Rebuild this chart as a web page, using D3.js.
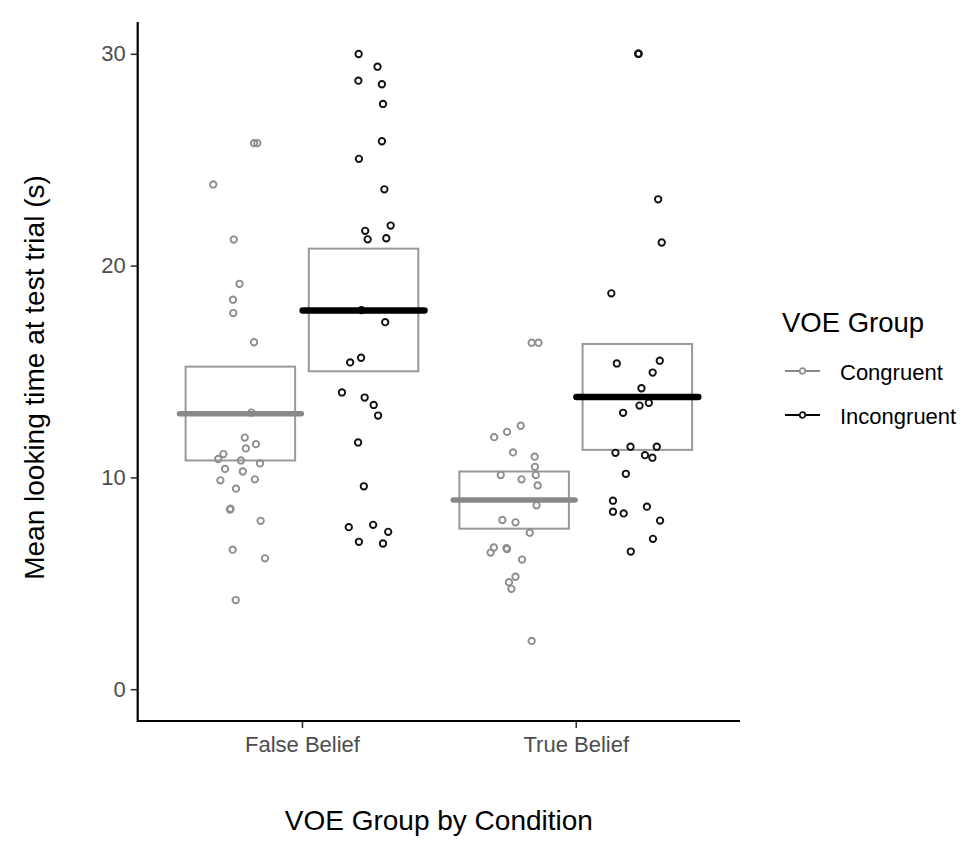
<!DOCTYPE html>
<html>
<head>
<meta charset="utf-8">
<script src="https://cdn.jsdelivr.net/npm/d3@7"></script>
<style>
  html, body { margin: 0; padding: 0; background: #fff; }
  svg { display: block; font-family: "Liberation Sans", Arial, Helvetica, sans-serif; }
</style>
</head>
<body>
<svg id="chart" width="974" height="851"></svg>
<script>
// ---- data ----
const conditions = ["False Belief", "True Belief"];
const groups = ["Congruent", "Incongruent"];
const yTicks = [0, 10, 20, 30];

// summary boxes: mean, lower, upper
const fbCongruentSummary = [13.01, 10.80, 15.23];
const fbIncongruentSummary = [17.88, 15.01, 20.80];
const tbCongruentSummary = [8.93, 7.58, 10.28];
const tbIncongruentSummary = [13.80, 11.30, 16.30];

// points: [value, jitter offset in category units]
const fbCongruentPoints = [
  [25.78, 0.050], [25.78, 0.062], [23.83, -0.099], [21.23, -0.024], [19.14, -0.003],
  [18.39, -0.027], [17.76, -0.026], [16.38, 0.050], [13.06, 0.040], [11.88, 0.016],
  [11.57, 0.057], [11.37, 0.020], [11.10, -0.062], [10.87, -0.081], [10.80, 0.002],
  [10.66, 0.072], [10.40, -0.056], [10.28, 0.009], [9.86, -0.073], [9.91, 0.053],
  [9.47, -0.016], [8.48, -0.038], [8.52, -0.036], [7.95, 0.074], [6.59, -0.028],
  [6.18, 0.090], [4.21, -0.017]
];
const fbIncongruentPoints = [
  [29.99, -0.018], [29.39, 0.051], [28.73, -0.019], [28.56, 0.067], [27.63, 0.071],
  [25.87, 0.067], [25.04, -0.017], [23.60, 0.076], [21.89, 0.099], [21.64, 0.006],
  [21.24, 0.015], [21.29, 0.083], [17.90, -0.008], [17.33, 0.079], [15.43, -0.049],
  [15.65, -0.009], [14.01, -0.079], [13.77, 0.004], [13.42, 0.037], [12.92, 0.053],
  [11.65, -0.020], [9.58, 0.001], [7.65, -0.054], [7.76, 0.035], [7.43, 0.090],
  [6.96, -0.017], [6.88, 0.071]
];
const tbCongruentPoints = [
  [16.36, 0.064], [16.36, 0.089], [12.44, 0.024], [12.15, -0.026], [11.90, -0.073],
  [11.18, -0.004], [10.98, 0.075], [10.50, 0.076], [10.11, -0.049], [10.11, 0.079],
  [9.91, 0.027], [9.62, 0.086], [8.68, 0.082], [7.99, -0.043], [7.88, 0.005],
  [7.39, 0.057], [6.69, -0.074], [6.45, -0.086], [6.66, -0.028], [6.62, -0.026],
  [6.12, 0.029], [5.31, 0.005], [5.05, -0.019], [4.74, -0.010], [2.28, 0.064]
];
const tbIncongruentPoints = [
  [30.00, 0.003], [30.00, 0.005], [23.13, 0.076], [21.09, 0.089], [18.69, -0.095],
  [15.51, 0.082], [15.38, -0.075], [14.95, 0.056], [14.21, 0.015], [13.52, 0.042],
  [13.39, 0.008], [13.05, -0.052], [11.45, -0.025], [11.45, 0.071], [11.16, -0.080],
  [11.05, 0.028], [10.93, 0.055], [10.17, -0.042], [8.90, -0.089], [8.62, 0.035],
  [8.38, -0.089], [8.30, -0.050], [7.96, 0.083], [7.10, 0.057], [6.50, -0.024]
];

// ---- build table for drawing ----
const cells = [
  { cond: conditions[0], group: groups[0], s: fbCongruentSummary, pts: fbCongruentPoints },
  { cond: conditions[0], group: groups[1], s: fbIncongruentSummary, pts: fbIncongruentPoints },
  { cond: conditions[1], group: groups[0], s: tbCongruentSummary, pts: tbCongruentPoints },
  { cond: conditions[1], group: groups[1], s: tbIncongruentSummary, pts: tbIncongruentPoints }
];

const svg = d3.select("#chart");
const panel = { left: 137.7, right: 740, top: 22, bottom: 721 };

const x = d3.scalePoint().domain(conditions).range([panel.left, panel.right]).padding(0.6);
const step = x.step();
const dodge = d3.scaleOrdinal().domain(groups).range([-0.225, 0.225]);
const y = d3.scaleLinear().domain([-1.5, 31.5]).range([panel.bottom, panel.top]);

const pointColor = d3.scaleOrdinal().domain(groups).range(["#8e8e8e", "#111111"]);
const meanColor = d3.scaleOrdinal().domain(groups).range(["#888888", "#000000"]);

const boxW = 0.4 * step, meanW = 0.445 * step;
const cx = d => x(d.cond) + dodge(d.group) * step;

const g = svg.append("g");

// boxes
g.selectAll("rect.box").data(cells).join("rect")
  .attr("class", "box")
  .attr("x", d => cx(d) - boxW / 2)
  .attr("width", boxW)
  .attr("y", d => y(d.s[2]))
  .attr("height", d => y(d.s[1]) - y(d.s[2]))
  .attr("fill", "none")
  .attr("stroke", "#999999")
  .attr("stroke-width", 2);

// points
cells.forEach(c => {
  g.append("g").selectAll("circle").data(c.pts).join("circle")
    .attr("cx", p => cx(c) + p[1] * step)
    .attr("cy", p => y(p[0]))
    .attr("r", 3.2)
    .attr("fill", "none")
    .attr("stroke", pointColor(c.group))
    .attr("stroke-width", 1.9);
});

// mean lines
g.selectAll("line.mean").data(cells).join("line")
  .attr("class", "mean")
  .attr("x1", d => cx(d) - meanW / 2)
  .attr("x2", d => cx(d) + meanW / 2)
  .attr("y1", d => y(d.s[0]))
  .attr("y2", d => y(d.s[0]))
  .attr("stroke", d => meanColor(d.group))
  .attr("stroke-width", d => d.group === groups[1] ? 6.5 : 5.5)
  .attr("stroke-linecap", "round");

// axes
const yAxis = d3.axisLeft(y).tickValues(yTicks).tickSize(7).tickPadding(5);
const yg = svg.append("g").attr("transform", `translate(${panel.left},0)`).call(yAxis);
yg.select(".domain").remove();
yg.selectAll(".tick line").attr("stroke", "#333").attr("stroke-width", 1.6);
yg.selectAll(".tick text").attr("fill", "#4d4d4d").attr("font-size", 22)
  .attr("font-family", "Liberation Sans, Arial, sans-serif");

const xAxis = d3.axisBottom(x).tickSize(7).tickPadding(8);
const xg = svg.append("g").attr("transform", `translate(0,${panel.bottom})`).call(xAxis);
xg.select(".domain").remove();
xg.selectAll(".tick line").attr("stroke", "#333").attr("stroke-width", 1.6);
xg.selectAll(".tick text").attr("fill", "#4d4d4d").attr("font-size", 22)
  .attr("font-family", "Liberation Sans, Arial, sans-serif");

svg.append("path")
  .attr("d", `M${panel.left},${panel.top}V${panel.bottom}H${panel.right}`)
  .attr("fill", "none").attr("stroke", "#000").attr("stroke-width", 2.2);

// axis titles
svg.append("text")
  .attr("x", (panel.left + panel.right) / 2).attr("y", 830)
  .attr("text-anchor", "middle").attr("font-size", 28).attr("fill", "#000")
  .text("VOE Group by Condition");
svg.append("text")
  .attr("transform", `translate(44,${(panel.top + panel.bottom) / 2 + 6}) rotate(-90)`)
  .attr("text-anchor", "middle").attr("font-size", 28).attr("fill", "#000")
  .text("Mean looking time at test trial (s)");

// legend
const lg = svg.append("g");
lg.append("text").attr("x", 782).attr("y", 332).attr("font-size", 27.5).attr("fill", "#000").text("VOE Group");
const items = lg.selectAll("g.item").data(groups).join("g")
  .attr("class", "item")
  .attr("transform", (d, i) => `translate(0,${371 + i * 44})`);
items.append("line").attr("x1", 785).attr("x2", 820).attr("y1", 0).attr("y2", 0)
  .attr("stroke", d => meanColor(d)).attr("stroke-width", 2);
items.append("circle").attr("cx", 802.5).attr("cy", 0).attr("r", 2.8)
  .attr("fill", "#fff").attr("stroke", d => pointColor(d)).attr("stroke-width", 1.8);
items.append("text").attr("x", 840).attr("y", 8.5).attr("font-size", 22).attr("fill", "#000")
  .text(d => d);
</script>
</body>
</html>
